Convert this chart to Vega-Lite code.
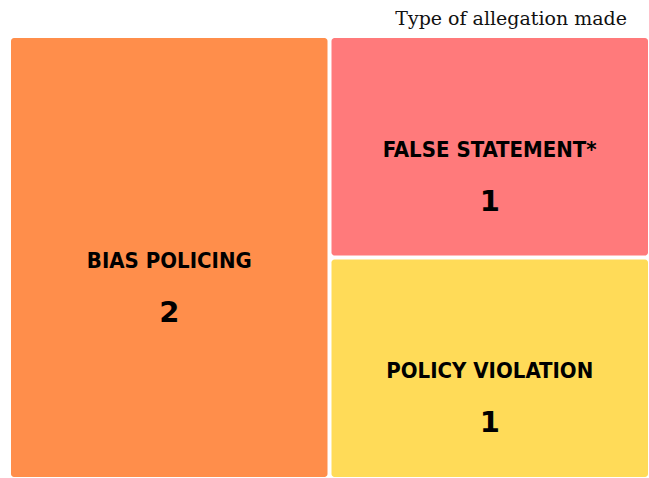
{
  "$schema": "https://vega.github.io/schema/vega-lite/v6.json",
  "width": 637,
  "height": 443,
  "autosize": "none",
  "padding": {"left": 11, "top": 36, "right": 1, "bottom": 0},
  "title": {"text": "Type of allegation made", "anchor": "end", "font": "DejaVu Serif", "fontSize": 19, "fontWeight": "normal", "color": "#111111", "offset": 7, "dx": -21},
  "data": {"values": [
    {"type": "Bias Policing", "count": 2, "column": "left"},
    {"type": "False Statement*", "count": 1, "column": "right"},
    {"type": "Policy Violation", "count": 1, "column": "right"}
  ]},
  "transform": [
    {"stack": "count", "groupby": ["column"], "sort": [{"field": "type", "order": "descending"}], "as": ["y0", "y1"]},
    {"calculate": "(datum.y0 + datum.y1) / 2", "as": "ymid"},
    {"calculate": "upper(datum.type)", "as": "label"}
  ],
  "encoding": {
    "x": {"field": "column", "type": "nominal", "scale": {"paddingInner": 0.01248, "paddingOuter": 0}, "axis": null}
  },
  "layer": [
    {
      "mark": {"type": "bar", "cornerRadius": 3, "yOffset": -2, "y2Offset": 2},
      "encoding": {
        "y": {"field": "y0", "type": "quantitative", "scale": {"domain": [0, 2], "nice": false}, "axis": null},
        "y2": {"field": "y1"},
        "color": {"field": "type", "type": "nominal", "scale": {"domain": ["Bias Policing", "False Statement*", "Policy Violation"], "range": ["#FF8E4B", "#FF7A7B", "#FFDB58"]}, "legend": null}
      }
    },
    {
      "mark": {"type": "text", "font": "DejaVu Sans Condensed", "fontWeight": "bold", "fontSize": 22, "dy": 3, "color": "black"},
      "encoding": {
        "y": {"field": "ymid", "type": "quantitative", "axis": null},
        "text": {"field": "label"}
      }
    },
    {
      "mark": {"type": "text", "font": "DejaVu Sans", "fontWeight": "bold", "fontSize": 29, "dy": 55, "color": "black"},
      "encoding": {
        "y": {"field": "ymid", "type": "quantitative", "axis": null},
        "text": {"field": "count"}
      }
    }
  ],
  "config": {"view": {"stroke": null}}
}
